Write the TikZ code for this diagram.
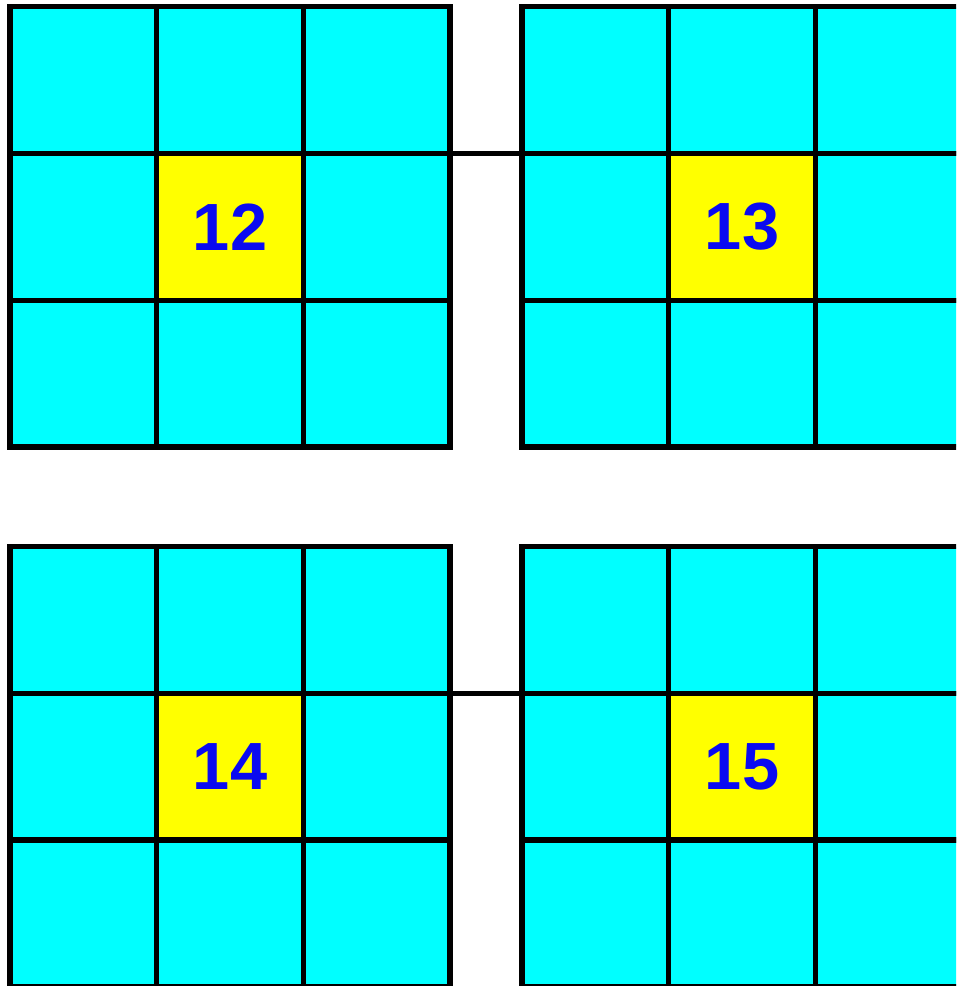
\documentclass[tikz,border=0pt]{standalone}
\usepackage{fontspec}
\setmainfont{Liberation Sans}
\usetikzlibrary{positioning}
\definecolor{boardcyan}{RGB}{0,255,255}
\definecolor{boardyellow}{RGB}{255,255,0}
\definecolor{numblue}{RGB}{10,10,240}
\tikzset{
  cell/.style={draw=black,line width=3pt,fill=boardcyan,minimum size=2.934cm,
    inner sep=0pt,outer sep=0pt},
  centre cell/.style={cell,fill=boardyellow,text=numblue,
    font=\bfseries\fontsize{38}{38}\selectfont},
  link/.style={draw=black,line width=3pt},
}
% one 3x3 board: name, top-left x, top-left y, number
\newcommand{\drawboard}[4]{%
  \foreach \r in {0,1,2}
    \foreach \c in {0,1,2}
      \node[cell] (#1-\r-\c) at ({#2+(\c+0.5)*146.7},{#3+(\r+0.5)*146.7}) {};
  \node[centre cell] (#1-1-1) at ({#2+1.5*146.7},{#3+1.5*146.7}) {#4};
}

\begin{document}
\begin{tikzpicture}[x=0.02cm,y=-0.02cm]
  \path[use as bounding box] (0,0) rectangle (956,986);
  \clip (0,0) rectangle (956,986);
  \drawboard{b12}{10}{6.8}{12}
  \drawboard{b13}{522}{6.8}{13}
  \drawboard{b14}{10}{546.5}{14}
  \drawboard{b15}{522}{546.5}{15}
  \draw[link] (b12-0-2.south east) -- (b13-0-0.south west);
  \draw[link] (b14-0-2.south east) -- (b15-0-0.south west);
\end{tikzpicture}
\end{document}
